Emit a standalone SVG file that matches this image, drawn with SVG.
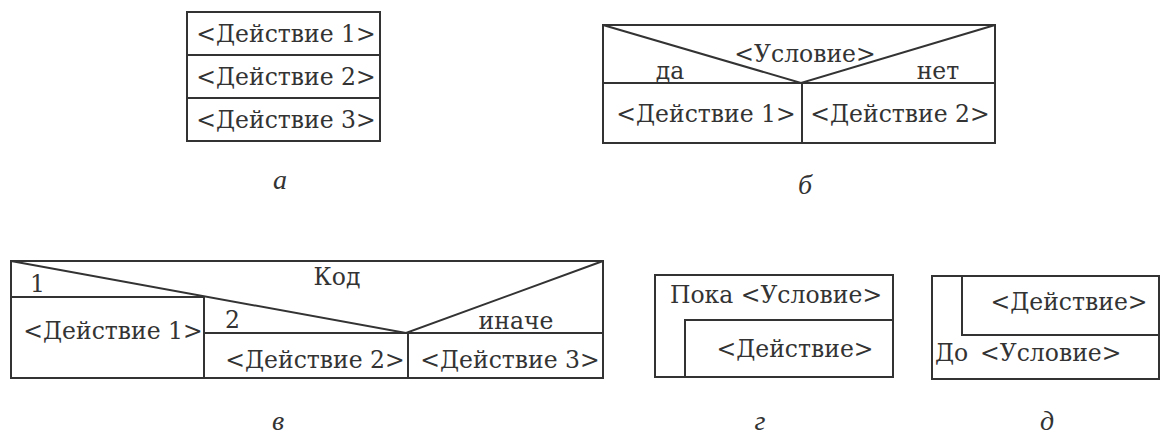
<svg xmlns="http://www.w3.org/2000/svg" width="1161" height="437" viewBox="0 0 1161 437">
<style>
.ln{fill:none;stroke:#333;stroke-width:2;stroke-linejoin:miter}
.t{font-family:"DejaVu Serif","Liberation Serif",serif;font-size:23.5px;fill:#333}
.m{text-anchor:middle}
.cap{font-family:"Liberation Serif","DejaVu Serif",serif;font-size:28px;font-style:italic;fill:#333;text-anchor:middle}
</style>
<rect width="1161" height="437" fill="#fff"/>
<g id="a">
<rect class="ln" x="187" y="12" width="193" height="129"/>
<line class="ln" x1="187" y1="55" x2="380" y2="55"/>
<line class="ln" x1="187" y1="98" x2="380" y2="98"/>
<text class="t m" x="286" y="42">&lt;Действие 1&gt;</text>
<text class="t m" x="286" y="85">&lt;Действие 2&gt;</text>
<text class="t m" x="286" y="128">&lt;Действие 3&gt;</text>
<text class="cap" x="280" y="189">а</text>
</g>
<g id="b">
<rect class="ln" x="603" y="25" width="392" height="118"/>
<line class="ln" x1="603" y1="83" x2="995" y2="83"/>
<line class="ln" x1="802" y1="83" x2="802" y2="143"/>
<polyline class="ln" points="603,25 801,83 995,25"/>
<text class="t m" x="805" y="62">&lt;Условие&gt;</text>
<text class="t m" x="670" y="79">да</text>
<text class="t m" x="938" y="79">нет</text>
<text class="t m" x="706" y="122">&lt;Действие 1&gt;</text>
<text class="t m" x="900" y="122">&lt;Действие 2&gt;</text>
<text class="cap" x="805" y="194">б</text>
</g>
<g id="c">
<rect class="ln" x="11" y="261" width="592" height="117"/>
<line class="ln" x1="11" y1="297" x2="204" y2="297"/>
<line class="ln" x1="204" y1="297" x2="204" y2="378"/>
<line class="ln" x1="204" y1="333" x2="603" y2="333"/>
<line class="ln" x1="408" y1="333" x2="408" y2="378"/>
<polyline class="ln" points="11,261 406,333 603,261"/>
<text class="t" x="30" y="292">1</text>
<text class="t m" x="337" y="285">Код</text>
<text class="t m" x="113" y="339">&lt;Действие 1&gt;</text>
<text class="t" x="225" y="328">2</text>
<text class="t m" x="315" y="368">&lt;Действие 2&gt;</text>
<text class="t m" x="516" y="329">иначе</text>
<text class="t m" x="510" y="368">&lt;Действие 3&gt;</text>
<text class="cap" x="278" y="430">в</text>
</g>
<g id="d">
<rect class="ln" x="655" y="275" width="238" height="102"/>
<polyline class="ln" points="685,377 685,320 893,320"/>
<text class="t m" x="776" y="303">Пока &lt;Условие&gt;</text>
<text class="t m" x="795" y="357">&lt;Действие&gt;</text>
<text class="cap" x="760" y="430">г</text>
</g>
<g id="e">
<rect class="ln" x="932" y="276" width="227" height="103"/>
<polyline class="ln" points="962,276 962,335 1159,335"/>
<text class="t m" x="1069" y="310">&lt;Действие&gt;</text>
<text class="t" x="935" y="361">До<tspan x="980">&lt;Условие&gt;</tspan></text>
<text class="cap" x="1047" y="430">д</text>
</g>
<g id="connectors"></g>
</svg>
